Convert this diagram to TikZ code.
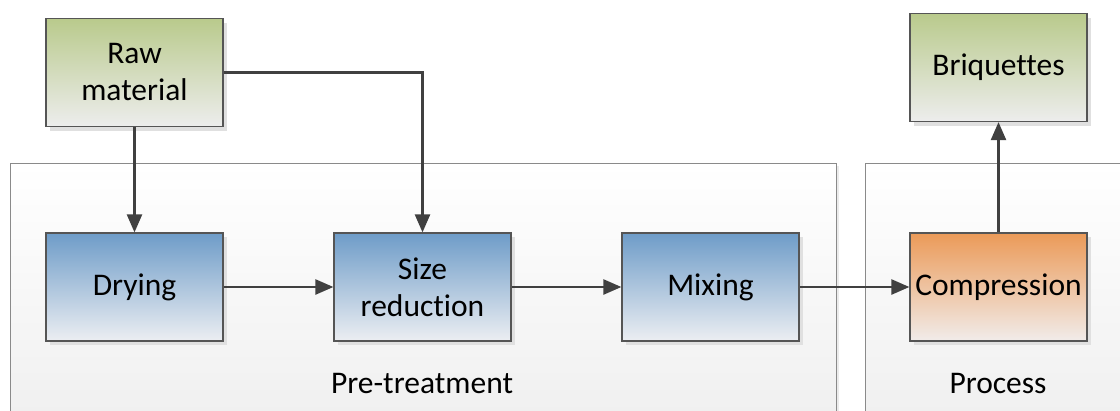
\documentclass[tikz,border=0pt]{standalone}
\usepackage{fontspec}
\setmainfont[Ligatures={NoCommon}]{Carlito}
\usetikzlibrary{arrows.meta,shadows}
\definecolor{edgec}{HTML}{404040}
\definecolor{boxline}{HTML}{555555}
\definecolor{greentop}{HTML}{B9CA8C}
\definecolor{greenbot}{HTML}{EDEDED}
\definecolor{bluetop}{HTML}{6E9CC8}
\definecolor{bluebot}{HTML}{ECEEF2}
\definecolor{orangetop}{HTML}{EB9A58}
\definecolor{orangebot}{HTML}{F1ECEA}
\definecolor{contline}{HTML}{8A8A8A}
\tikzset{
  procbox/.style={draw=boxline, line width=1.2pt, minimum width=177pt, minimum height=108pt,
    inner sep=0pt, align=center, font=\fontsize{31.5}{37}\selectfont,
    drop shadow={shadow xshift=4pt, shadow yshift=-4pt, fill=black!12, opacity=1}},
  greenbox/.style={procbox, top color=greentop, bottom color=greenbot},
  bluebox/.style={procbox, top color=bluetop, bottom color=bluebot},
  orangebox/.style={procbox, top color=orangetop, bottom color=orangebot},
  container/.style={draw=contline, line width=1pt, top color=white, bottom color=black!6,
    inner sep=0pt, minimum height=257pt,
    drop shadow={shadow xshift=3pt, shadow yshift=-3pt, fill=black!8, opacity=1}},
  conlabel/.style={font=\fontsize{31.5}{37}\selectfont, inner sep=0pt},
  flow/.style={draw=edgec, line width=2.4pt, -{Triangle[length=18pt,width=15pt]}}
}
\begin{document}
\begin{tikzpicture}[x=1pt,y=-1pt]
\useasboundingbox (0,0) rectangle (1120,410);
% containers
\node[container, minimum width=826pt] (pre) at (423,291.5) {};
\node[container, minimum width=266pt] (proc) at (998,291.5) {};
\node[conlabel] (prelab) at (422,384) {Pre-treatment};
\node[conlabel] (proclab) at (998,384) {Process};
% boxes
\node[greenbox] (raw) at (134.5,72.5) {Raw\\material};
\node[greenbox] (briq) at (998.5,67.5) {Briquettes};
\node[bluebox] (dry) at (134.5,287) {Drying};
\node[bluebox] (size) at (422.5,287) {Size\\reduction};
\node[bluebox] (mix) at (710.5,287) {Mixing};
\node[orangebox] (comp) at (998.5,287) {Compression};
% connectors
\draw[flow] (raw.south) -- (dry.north);
\draw[flow] (raw.east) -| (size.north);
\draw[flow] (dry.east) -- (size.west);
\draw[flow] (size.east) -- (mix.west);
\draw[flow] (mix.east) -- (comp.west);
\draw[flow] (comp.north) -- (briq.south);
\end{tikzpicture}
\end{document}
